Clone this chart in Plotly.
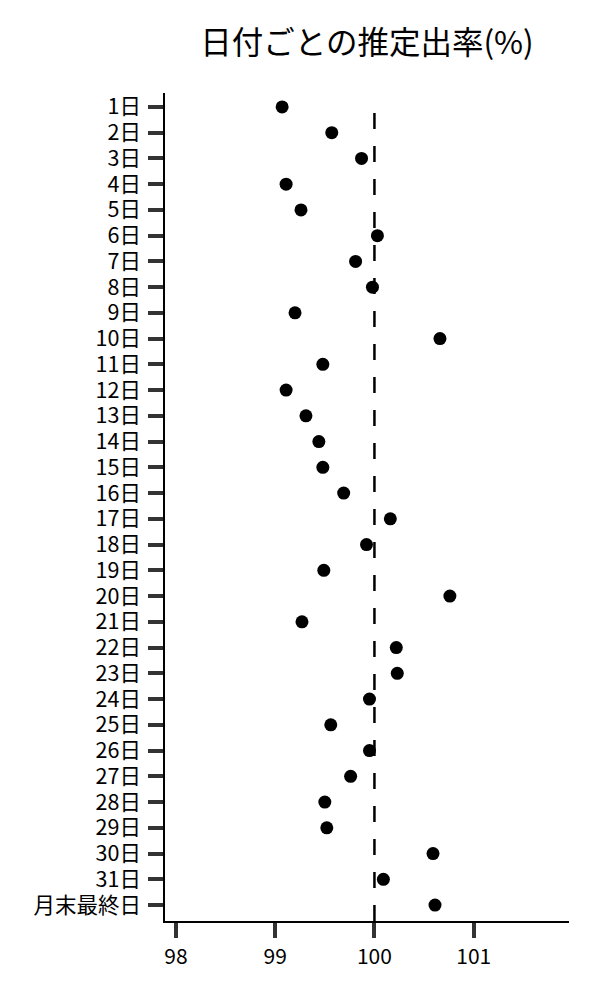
import plotly.graph_objects as go

# 日付ラベルと推定出率
days = [str(d) + "日" for d in range(1, 32)] + ["月末最終日"]
rates = [99.07, 99.57, 99.87, 99.11, 99.26, 100.03, 99.81, 99.98, 99.20, 100.66,
         99.48, 99.11, 99.31, 99.44, 99.48, 99.69, 100.16, 99.92, 99.49, 100.76,
         99.27, 100.22, 100.23, 99.95, 99.56, 99.95, 99.76, 99.50, 99.52, 100.59,
         100.09, 100.61]
x_ticks = [98, 99, 100, 101]
ref_value = 100

font_name = "Noto Sans CJK JP"


def dot_trace(x_values, y_values):
    return go.Scatter(x=x_values, y=y_values, mode="markers",
                      marker=dict(color="black", size=13),
                      showlegend=False, hoverinfo="x+y")


def axis_style(size, **extra):
    style = dict(showline=True, linecolor="black", linewidth=1.5,
                 showgrid=False, zeroline=False,
                 ticks="outside", ticklen=15, tickwidth=4, tickcolor="#333333",
                 tickfont=dict(family=font_name, size=size, color="black"))
    style.update(extra)
    return style


fig = go.Figure(dot_trace(rates, days))

fig.add_shape(type="line", xref="x", yref="paper",
              x0=ref_value, x1=ref_value, y0=0, y1=0.987,
              line=dict(color="black", width=2.5, dash="16px,17px"))

fig.update_layout(
    width=600, height=1000,
    margin=dict(l=157, r=39, t=85, b=87),
    paper_bgcolor="white", plot_bgcolor="white",
    title=dict(text="日付ごとの推定出率(%)", x=0.5, xref="paper",
               y=1 - 35 / 1000, yanchor="middle",
               font=dict(family=font_name, size=31.5, color="black")),
    xaxis=axis_style(21, range=[97.89, 101.96], tickvals=x_ticks,
                     ticklabelstandoff=1),
    # every day label is kept (no automatic skipping)
    yaxis=axis_style(21.5, type="category", categoryarray=days,
                     tickmode="array", tickvals=days, ticktext=days,
                     range=[31.62, -0.54], ticklabelstandoff=3),
    font=dict(family=font_name),
)

fig.write_html("out.html")
